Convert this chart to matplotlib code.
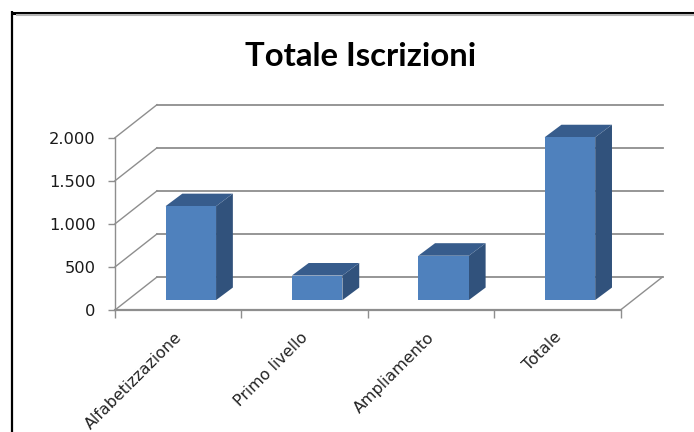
import matplotlib
matplotlib.use("Agg")
import matplotlib.pyplot as plt
from matplotlib.lines import Line2D

categories = ["Alfabetizzazione", "Primo livello", "Ampliamento", "Totale"]
values = [1090, 285, 515, 1890]
y_ticks = [0, 500, 1000, 1500, 2000]
y_labels = ["0", "500", "1.000", "1.500", "2.000"]
title = "Totale Iscrizioni"

W, H = 694, 432
FRONT = "#4F81BD"
TOP = "#375C8C"
SIDE = "#31527C"
GRID = "#8E8E8E"

fig = plt.figure(figsize=(W / 100, H / 100), dpi=100, facecolor="white")

# plot-box geometry in pixels
x0, x1, y0, y2000 = 115.0, 620.5, 310.0, 137.7
dx_px, dy_px = 42.0, 33.0
cat_px = (x1 - x0) / len(categories)
val_px = (y0 - y2000) / max(y_ticks)
DX = dx_px / cat_px
DY = dy_px / val_px

ax = fig.add_axes([x0 / W, 1 - y0 / H, (x1 + dx_px - x0) / W, (y0 - y2000 + dy_px) / H])
ax.set_xlim(0, len(categories) + DX)
ax.set_ylim(0, max(y_ticks) + DY)
ax.patch.set_alpha(0)

for s in ("top", "right"):
    ax.spines[s].set_visible(False)
ax.spines["left"].set_bounds(0, max(y_ticks))
ax.spines["bottom"].set_bounds(0, len(categories))
ax.spines["left"].set_color(GRID)
ax.spines["bottom"].set_color(GRID)
ax.spines["left"].set_linewidth(1.0)
ax.spines["bottom"].set_linewidth(1.6)

# back wall grid and side-wall diagonals
for v in y_ticks:
    ax.plot([DX, len(categories) + DX], [v + DY, v + DY], color=GRID, lw=1.3, zorder=1, clip_on=False)
    ax.plot([0, DX], [v, v + DY], color=GRID, lw=1.0, zorder=1, clip_on=False)
ax.plot([len(categories), len(categories) + DX], [0, DY], color=GRID, lw=1.0, zorder=1, clip_on=False)

# oblique 3D bars
bar_w = 0.4
off_x, off_y = 0.3 * DX, 0.3 * DY
dep_x, dep_y = 0.4 * DX, 0.38 * DY
for i, v in enumerate(values):
    l = i + 0.5 - bar_w / 2 + off_x
    r = l + bar_w
    b = off_y
    t = off_y + v
    ax.fill([r, r + dep_x, r + dep_x, r], [b, b + dep_y, t + dep_y, t], color=SIDE, lw=0, zorder=3, clip_on=False)
    ax.fill([l, r, r + dep_x, l + dep_x], [t, t, t + dep_y, t + dep_y], color=TOP, lw=0, zorder=3, clip_on=False)
    ax.fill([l, r, r, l], [b, b, t, t], color=FRONT, lw=0, zorder=4, clip_on=False)

ax.set_yticks(y_ticks)
ax.set_yticklabels(y_labels, fontsize=11.7, color="#1A1A1A", fontfamily="DejaVu Sans")
ax.tick_params(axis="y", length=5, width=1, color=GRID, pad=9)
ax.set_xticks(range(len(categories) + 1))
ax.set_xticklabels([])
ax.tick_params(axis="x", which="major", length=6, width=1, color=GRID)
ax.set_xticks([i + 0.5 - 4 / cat_px for i in range(len(categories))], minor=True)
ax.set_xticklabels(categories, minor=True, rotation=45, ha="right", rotation_mode="anchor",
                   fontsize=11.4, color="#222222", fontfamily="DejaVu Sans")
ax.tick_params(axis="x", which="minor", length=0, pad=14)

fig.text(361 / W, 1 - 56 / H, title, ha="center", va="center", fontsize=23.7, fontweight="bold",
         family="Lato", color="black")

# outer frame
fig.add_artist(Line2D([12 / W, 12 / W], [0, 1 - 11 / H], color="black", lw=1.6, solid_capstyle="butt"))
fig.add_artist(Line2D([11 / W, 1], [1 - 12.5 / H, 1 - 12.5 / H], color="black", lw=2.2, solid_capstyle="butt"))
fig.add_artist(Line2D([16 / W, 1], [1 - 15 / H, 1 - 15 / H], color="#B4B4B4", lw=1.5, solid_capstyle="butt"))

fig.savefig("out.png", dpi=100, facecolor="white")
